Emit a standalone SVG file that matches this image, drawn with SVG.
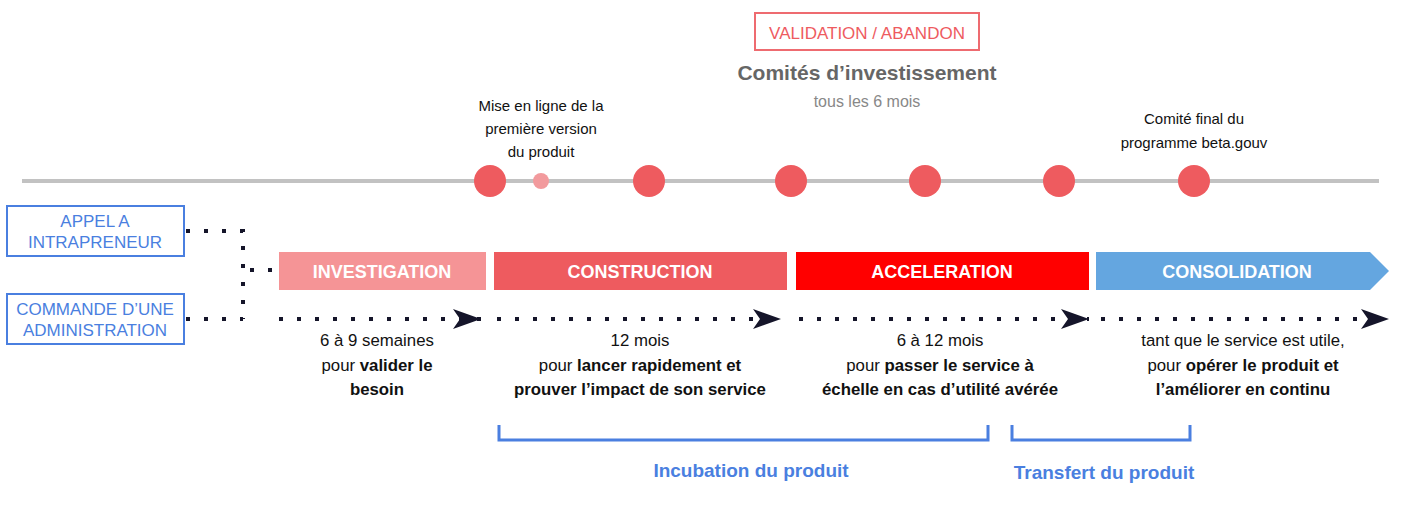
<svg xmlns="http://www.w3.org/2000/svg" width="1409" height="515" viewBox="0 0 1409 515">
<style>
text{font-family:"Helvetica","Liberation Sans",Arial,sans-serif}
.d{fill:none;stroke:#15152a;stroke-width:4;stroke-dasharray:4 14}
.ph{fill:#fff;font-weight:bold;font-size:18px;text-anchor:middle}
.t{font-size:16.8px;fill:#111;text-anchor:middle}
.b{font-weight:bold}
.box{fill:#fff;stroke:#4a7fe0;stroke-width:2}
.bt{font-size:17px;fill:#4a7fe0;text-anchor:middle}
.c{fill:#ee5b5f}
.br{fill:none;stroke:#4a7fe0;stroke-width:3}
.bl{font-size:19px;font-weight:bold;fill:#4a7fe0;text-anchor:middle}
</style>
<defs><marker id="a" viewBox="0 0 28 20" refX="28" refY="10" markerWidth="28" markerHeight="20" markerUnits="userSpaceOnUse" orient="auto"><path d="M0 0 L28 10 L0 20 L7 10 Z" fill="#15152a"/></marker></defs>
<g id="top">
<rect x="755" y="13" width="224" height="37" fill="#fff" stroke="#ee6b70" stroke-width="2"/>
<text x="867" y="39" font-size="17" fill="#ee5b5f" text-anchor="middle">VALIDATION / ABANDON</text>
<text x="867" y="80" font-size="21" font-weight="bold" fill="#666" text-anchor="middle">Comités d’investissement</text>
<text x="867" y="107" font-size="16" fill="#888" text-anchor="middle">tous les 6 mois</text>
<text class="t" font-size="15" x="541" y="111" style="font-size:15px">Mise en ligne de la</text>
<text class="t" x="541" y="134" style="font-size:15px">première version</text>
<text class="t" x="541" y="157" style="font-size:15px">du produit</text>
<text class="t" x="1194" y="124" style="font-size:15px">Comité final du</text>
<text class="t" x="1194" y="148" style="font-size:15px">programme beta.gouv</text>
</g>
<g id="timeline">
<line x1="22" y1="181" x2="1379" y2="181" stroke="#c2c2c2" stroke-width="4"/>
<circle class="c" cx="490" cy="181" r="16"/><circle cx="541" cy="181" r="8" fill="#f29a9d"/>
<circle class="c" cx="649" cy="181" r="16"/><circle class="c" cx="791" cy="181" r="16"/>
<circle class="c" cx="925" cy="181" r="16"/><circle class="c" cx="1059" cy="181" r="16"/>
<circle class="c" cx="1194" cy="181" r="16"/>
</g>
<g id="n-appel"><rect class="box" x="7" y="206" width="177" height="50"/><text class="bt" x="95" y="227">APPEL A</text><text class="bt" x="95" y="248">INTRAPRENEUR</text></g>
<g id="n-commande"><rect class="box" x="7" y="294" width="177" height="50"/><text class="bt" x="95" y="315">COMMANDE D’UNE</text><text class="bt" x="95" y="336">ADMINISTRATION</text></g>
<g id="n-investigation"><rect x="279" y="252" width="207" height="38" fill="#f59496"/><text class="ph" x="382" y="278">INVESTIGATION</text></g>
<g id="n-construction"><rect x="494" y="252" width="293" height="38" fill="#ee5b5f"/><text class="ph" x="640" y="278">CONSTRUCTION</text></g>
<g id="n-acceleration"><rect x="796" y="252" width="293" height="38" fill="#ff0000"/><text class="ph" x="942" y="278">ACCELERATION</text></g>
<g id="n-consolidation"><path d="M1096 252 H1370 L1389 271 L1370 290 H1096 Z" fill="#64a6e0"/><text class="ph" x="1237" y="278">CONSOLIDATION</text></g>
<g id="connectors">
<path class="d" d="M186 231 H243 V319 M186 319 H243 M250 270 H276"/>
<path class="d" d="M279 319 H481" marker-end="url(#a)"/>
<path class="d" d="M497 319 H781" marker-end="url(#a)"/>
<path class="d" d="M799 319 H1089" marker-end="url(#a)"/>
<path class="d" d="M1101 319 H1389" marker-end="url(#a)"/>
</g>
<g id="durations">
<text class="t" x="377" y="346">6 à 9 semaines</text>
<text class="t" x="377" y="371">pour <tspan class="b">valider le</tspan></text>
<text class="t b" x="377" y="395">besoin</text>
<text class="t" x="640" y="346">12 mois</text>
<text class="t" x="640" y="371">pour <tspan class="b">lancer rapidement et</tspan></text>
<text class="t b" x="640" y="395">prouver l’impact de son service</text>
<text class="t" x="940" y="346">6 à 12 mois</text>
<text class="t" x="940" y="371">pour <tspan class="b">passer le service à</tspan></text>
<text class="t b" x="940" y="395">échelle en cas d’utilité avérée</text>
<text class="t" x="1243" y="346">tant que le service est utile,</text>
<text class="t" x="1243" y="371">pour <tspan class="b">opérer le produit et</tspan></text>
<text class="t b" x="1243" y="395">l’améliorer en continu</text>
</g>
<g id="brackets">
<path class="br" d="M499 425 V440 H988 V425"/>
<path class="br" d="M1012 425 V440 H1190 V425"/>
<text class="bl" x="751" y="477">Incubation du produit</text>
<text class="bl" x="1104" y="479">Transfert du produit</text>
</g>
</svg>
